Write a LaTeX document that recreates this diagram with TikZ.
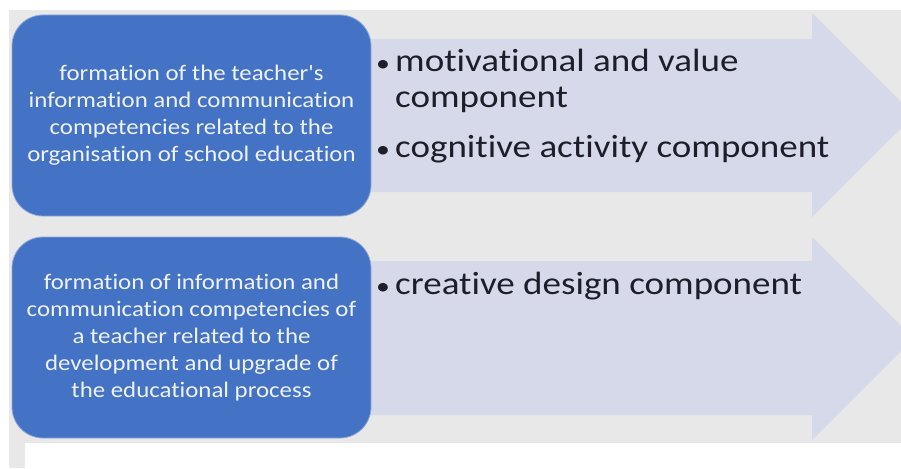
\documentclass[tikz,border=0pt]{standalone}
\usepackage{fontspec}
\setmainfont{Carlito}
\newfontfamily\boxfont[FakeStretch=1.12,Ligatures=NoCommon]{Carlito}
\newfontfamily\itemfont[FakeStretch=1.15,Ligatures=NoCommon]{Carlito}
\definecolor{bggray}{HTML}{E8E8E8}
\definecolor{boxblue}{HTML}{4472C4}
\definecolor{arrowfill}{HTML}{D5D9EA}
\definecolor{boxtext}{HTML}{EEF2FA}
\definecolor{itemtext}{HTML}{1E1E2A}
\tikzset{
  bluebox/.style={fill=boxblue, draw=boxblue!60!white, line width=0.8pt, rounded corners=31pt,
    minimum width=359pt, minimum height=201pt, inner sep=0pt,
    text=boxtext, align=center, font=\boxfont\fontsize{22.2}{27}\selectfont},
  itemline/.style={anchor=base west, inner sep=0pt, text=itemtext,
    font=\itemfont\fontsize{32.2}{38}\selectfont},
  bigarrow/.style={fill=arrowfill}
}
\newcommand{\bul}{\makebox[21pt][l]{\hspace{2pt}\scalebox{0.75}{\textbullet}}}
\begin{document}
\begin{tikzpicture}[x=1pt,y=-1pt]
\useasboundingbox (0,0) rectangle (901,468);
\fill[white] (0,0) rectangle (901,468);
\fill[bggray] (9,10) rectangle (901,443);
\fill[bggray] (9,443) rectangle (25,468);
\begin{scope}
\clip (0,0) rectangle (901,468);
\fill[bigarrow] (360,39) -- (812,39) -- (812,13) -- (914,115) -- (812,217) -- (812,192) -- (360,192) -- cycle;
\fill[bigarrow] (360,261) -- (812,261) -- (812,237) -- (913.5,338.5) -- (812,440) -- (812,415) -- (360,415) -- cycle;
\end{scope}
\node[bluebox] (b1) at (191.5,115.5) {formation of the teacher's\\information and communication\\competencies related to the\\organisation of school education};
\node[bluebox] (b2) at (191.5,337.5) {formation of information and\\communication competencies of\\a teacher related to the\\development and upgrade of\\the educational process};
\node[itemline] (i1) at (374,72) {\bul motivational and value};
\node[itemline] (i1b) at (395,108) {component};
\node[itemline] (i2) at (374,157) {\bul cognitive activity component};
\node[itemline] (i3) at (374,294) {\bul creative design component};
\end{tikzpicture}
\end{document}
